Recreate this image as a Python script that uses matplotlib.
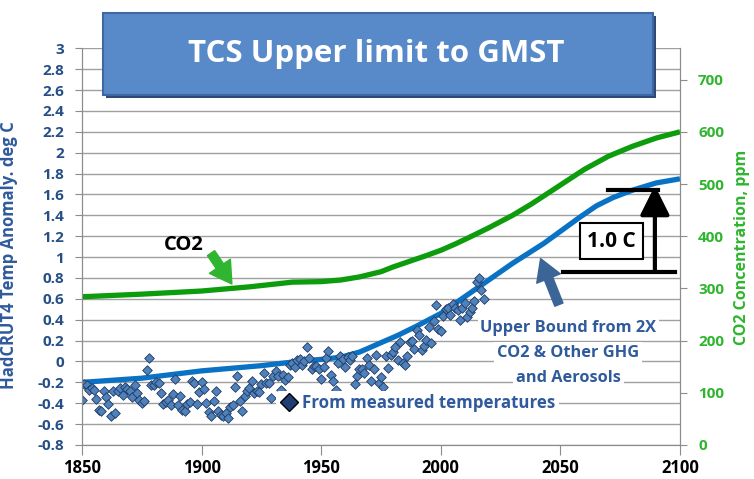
import matplotlib
matplotlib.use('Agg')
import matplotlib.pyplot as plt
from matplotlib.patches import Rectangle
from matplotlib.lines import Line2D

plt.rcParams['font.family'] = ['Open Sans', 'DejaVu Sans']
plt.rcParams['font.weight'] = 'bold'

# 年度气温距平 (HadCRUT4)
obs_years = list(range(1850, 2019))
obs_anom = [-0.37, -0.22, -0.23, -0.27, -0.25, -0.27, -0.36, -0.46, -0.47, -0.28,
            -0.34, -0.41, -0.52, -0.28, -0.49, -0.28, -0.25, -0.32, -0.24, -0.26,
            -0.28, -0.34, -0.23, -0.30, -0.37, -0.40, -0.38, -0.08, 0.03, -0.23,
            -0.23, -0.20, -0.21, -0.30, -0.41, -0.39, -0.37, -0.42, -0.31, -0.17,
            -0.42, -0.33, -0.46, -0.47, -0.41, -0.39, -0.19, -0.21, -0.41, -0.29,
            -0.20, -0.26, -0.40, -0.48, -0.52, -0.38, -0.28, -0.47, -0.51, -0.52,
            -0.49, -0.54, -0.44, -0.42, -0.24, -0.14, -0.38, -0.47, -0.33, -0.28,
            -0.25, -0.19, -0.30, -0.28, -0.29, -0.22, -0.11, -0.21, -0.21, -0.35,
            -0.14, -0.09, -0.14, -0.27, -0.13, -0.18, -0.15, -0.03, -0.01, -0.05,
            0.01, 0.02, -0.03, 0.00, 0.14, 0.03, -0.07, -0.04, -0.04, -0.07,
            -0.17, -0.05, 0.03, 0.10, -0.13, -0.19, -0.27, -0.01, 0.05, 0.02,
            -0.05, 0.04, 0.01, 0.05, -0.22, -0.14, -0.07, -0.07, -0.11, 0.03,
            -0.03, -0.19, -0.07, 0.06, -0.21, -0.15, -0.24, 0.05, -0.06, 0.06,
            0.09, 0.14, 0.01, 0.19, -0.01, -0.03, 0.05, 0.19, 0.20, 0.12,
            0.30, 0.25, 0.11, 0.15, 0.21, 0.33, 0.18, 0.39, 0.54, 0.31,
            0.29, 0.44, 0.50, 0.51, 0.45, 0.55, 0.51, 0.49, 0.40, 0.51,
            0.56, 0.43, 0.47, 0.51, 0.58, 0.76, 0.80, 0.68, 0.60]

# 上限曲线 (左轴, deg C)
bound_years = [1850, 1875, 1900, 1925, 1940, 1950, 1958, 1966, 1974, 1982, 1990, 2000,
               2010, 2020, 2030, 2043, 2058, 2065, 2072, 2080, 2090, 2100]
bound_temp = [-0.20, -0.16, -0.09, -0.04, 0.00, 0.02, 0.04, 0.09, 0.17, 0.25, 0.34, 0.46,
              0.62, 0.78, 0.94, 1.13, 1.38, 1.49, 1.57, 1.64, 1.71, 1.75]

# CO2 浓度 (右轴, ppm)
co2_years = [1850, 1875, 1900, 1920, 1938, 1950, 1958, 1966, 1975, 1980, 1987, 1994,
             2000, 2006, 2012, 2020, 2030, 2038, 2044, 2050, 2060, 2070, 2080, 2090, 2100]
co2_ppm = [284, 289, 295, 303, 312, 313, 316, 322, 332, 341, 352, 363,
           373, 385, 398, 416, 440, 462, 480, 498, 528, 553, 572, 588, 600]

left_ticks = [-0.8, -0.6, -0.4, -0.2, 0, 0.2, 0.4, 0.6, 0.8, 1, 1.2, 1.4, 1.6, 1.8,
              2, 2.2, 2.4, 2.6, 2.8, 3]
right_ticks = [0, 100, 200, 300, 400, 500, 600, 700]
x_ticks = [1850, 1900, 1950, 2000, 2050, 2100]

bound_note = ['Upper Bound from 2X', 'CO2 & Other GHG', 'and Aerosols']

blue_txt = '#2f5a9c'
green_txt = '#2fb52f'
grey = '#a0a0a0'

fig = plt.figure(figsize=(7.54, 4.79), dpi=100)
ax = fig.add_axes([82 / 754, 1 - 445 / 479, 598 / 754, 396.7 / 479])
ax2 = ax.twinx()

ax.set_xlim(1850, 2100)
ax.set_ylim(-0.8, 3)
ax2.set_ylim(0, 760)

ax.set_yticks(left_ticks)
ax.set_yticklabels([f'{v:g}' for v in left_ticks], fontweight='bold')
ax.set_xticks(x_ticks)
ax.set_xticklabels([str(v) for v in x_ticks], fontweight='bold')
ax2.set_yticks(right_ticks)
ax2.set_yticklabels([str(v) for v in right_ticks], fontweight='bold')

ax.grid(axis='y', color=grey, lw=1)
ax.set_axisbelow(True)

for a in (ax, ax2):
    a.spines['top'].set_visible(False)
    for s in ('left', 'right', 'bottom'):
        a.spines[s].set_color('#8c8c8c')

ax.tick_params(axis='y', colors='#8c8c8c', labelcolor='#254f86', labelsize=11,
               length=5, pad=8)
ax.tick_params(axis='x', colors='#8c8c8c', labelcolor='black', labelsize=12,
               length=7, pad=3)
ax2.tick_params(axis='y', colors='#8c8c8c', labelcolor=green_txt, labelsize=11,
                length=5, pad=8)

ax.set_ylabel('HadCRUT4 Temp Anomaly. deg C', color=blue_txt, fontsize=12,
              fontweight='bold')
ax.yaxis.set_label_coords(-0.107, 0.479)
ax2.set_ylabel('CO2 Concentration, ppm', color=green_txt, fontsize=11.5, rotation=90,
               fontweight='bold')
ax2.yaxis.set_label_coords(1.09, 0.498)

ax.plot(bound_years, bound_temp, color='#0a72c4', lw=3.8, zorder=2,
        solid_capstyle='butt')
ax.scatter(obs_years, obs_anom, marker='D', s=24, color='#4f81bd',
           edgecolors='#1f3a60', linewidths=0.6, zorder=3)
ax2.plot(co2_years, co2_ppm, color='#0c9c0c', lw=3.8, solid_capstyle='butt')

# 图例
handle = Line2D([], [], marker='D', ls='none', markersize=9,
                markerfacecolor='#1f3f72', markeredgecolor='black', markeredgewidth=1)
leg = ax.legend([handle], ['From measured temperatures'], loc='center left',
                bbox_to_anchor=(0.31, 0.106), frameon=True,
                prop=dict(size=12.2, weight='bold'),
                handletextpad=0.15, borderpad=0.2, handlelength=1.2)
leg.get_frame().set_facecolor('white')
leg.get_frame().set_edgecolor('none')
leg.get_frame().set_alpha(1)
for t in leg.get_texts():
    t.set_color(blue_txt)
leg.set_zorder(5)

# 注释
ax.text(1892.5, 1.12, 'CO2', fontsize=14.5, fontweight='bold', color='black',
        ha='center', va='center')
ax.annotate('', xy=(1913.3, 0.72), xytext=(1903.3, 1.06),
            arrowprops=dict(arrowstyle='simple,head_length=1.1,head_width=1.3,tail_width=0.45',
                            color='#2fb52f', mutation_scale=14))

for line, yv in zip(bound_note, [0.321, 0.081, -0.158]):
    ax.text(2053.3, yv, line, fontsize=11.8, fontweight='bold', color=blue_txt,
            ha='center', va='center', zorder=4,
            bbox=dict(fc='white', ec='none', pad=2))
ax.annotate('', xy=(2041.3, 1.01), xytext=(2049.8, 0.52),
            arrowprops=dict(arrowstyle='simple,head_length=1.1,head_width=1.3,tail_width=0.45',
                            color='#3b6596', mutation_scale=14))

ax.text(2071.4, 1.154, '1.0 C', fontsize=15, fontweight='bold', color='black',
        ha='center', va='center', zorder=5,
        bbox=dict(fc='white', ec='black', lw=1.5, boxstyle='square,pad=0.35'))
ax.plot([2051.1, 2097.9], [0.857, 0.857], color='black', lw=3, zorder=6)
ax.plot([2069.9, 2090.8], [1.643, 1.643], color='black', lw=3, zorder=6)
ax.annotate('', xy=(2089.5, 1.685), xytext=(2089.5, 0.857),
            arrowprops=dict(arrowstyle='-|>,head_length=0.9,head_width=0.45', color='black',
                            lw=3, mutation_scale=20, shrinkA=0, shrinkB=0), zorder=6)

# 标题框
fig.add_artist(Rectangle((103 / 754 + 0.004, 1 - 95 / 479 - 0.007), 550 / 754, 82 / 479,
                         transform=fig.transFigure, facecolor='#2d4a75', edgecolor='none',
                         zorder=9))
fig.add_artist(Rectangle((103 / 754, 1 - 95 / 479), 550 / 754, 82 / 479,
                         transform=fig.transFigure, facecolor='#5889c8', edgecolor='#3f68a3',
                         lw=1.5, zorder=10))
fig.text((103 + 273) / 754, 1 - 54 / 479, 'TCS Upper limit to GMST', color='white',
         fontsize=22.5, fontweight='bold', ha='center', va='center', zorder=11)

plt.savefig('out.png', dpi=100)
